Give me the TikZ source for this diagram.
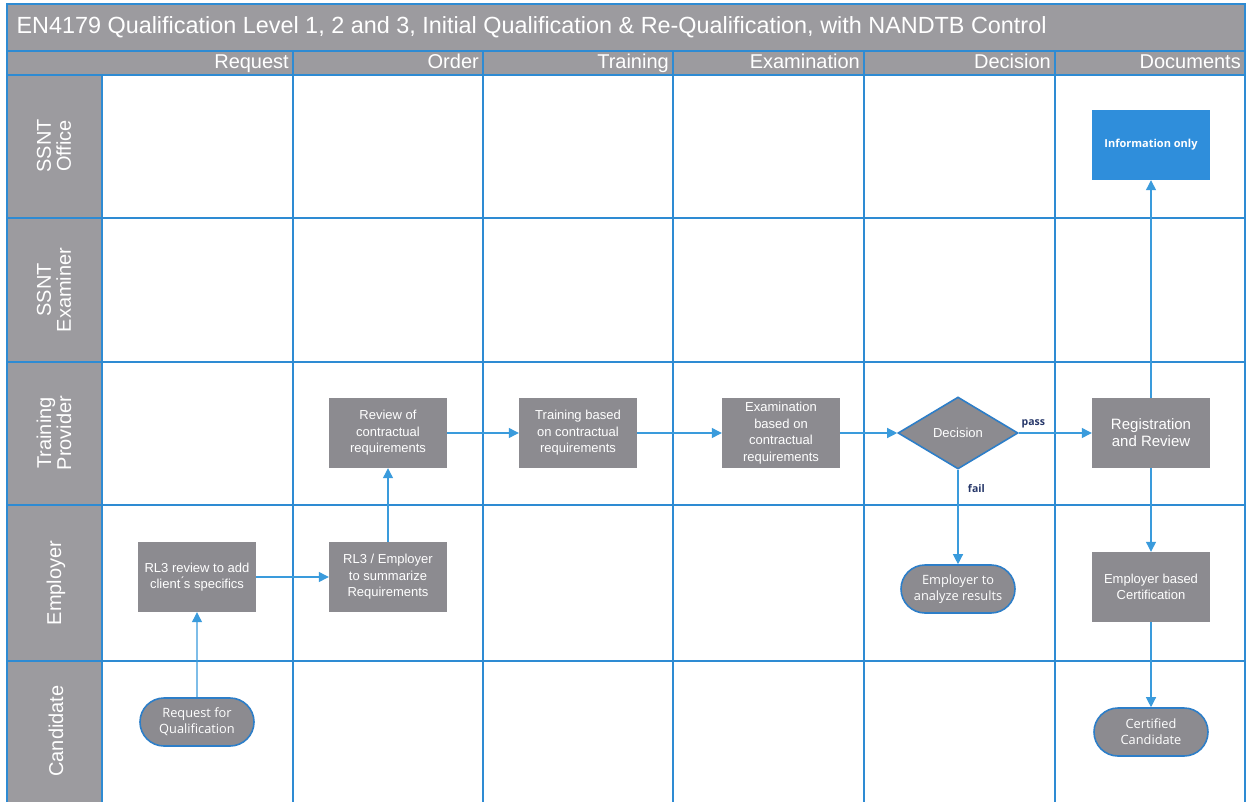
\documentclass[tikz,border=0pt]{standalone}
\usepackage{fontspec}
\setmainfont{Liberation Sans}
\newfontfamily\osans{Open Sans}
\usetikzlibrary{shapes.geometric,shapes.misc,arrows.meta}
\definecolor{gridblue}{HTML}{2E8BD3}
\definecolor{bargray}{HTML}{9C9B9F}
\definecolor{nodegray}{HTML}{8C8B90}
\definecolor{infoblue}{HTML}{2F8EDB}
\definecolor{edgeblue}{HTML}{2D7EC8}
\definecolor{arrowblue}{HTML}{3A9BDC}
\definecolor{labelnavy}{HTML}{27386A}
\begin{document}
\begin{tikzpicture}[x=1pt,y=-1pt,
  gridline/.style={draw=gridblue, line width=1.4pt},
  proc/.style={fill=nodegray, minimum width=118pt, minimum height=70pt, text=white, align=center, inner sep=2pt, font=\fontsize{13}{16.5}\selectfont},
  term/.style={rounded rectangle, fill=nodegray, draw=edgeblue, line width=1.6pt, minimum width=118pt, minimum height=48pt, text=white, align=center, inner sep=2pt, font=\osans\fontsize{12.8}{16}\selectfont},
  decide/.style={diamond, fill=nodegray, draw=edgeblue, line width=1.6pt, minimum width=120pt, minimum height=72pt, inner sep=0pt, aspect=1.67, text=white, font=\fontsize{13}{16}\selectfont},
  info/.style={fill=infoblue, minimum width=118pt, minimum height=70pt, text=white, align=center, font=\osans\bfseries\fontsize{11}{14}\selectfont},
  arr/.style={draw=arrowblue, line width=1.2pt, -{Triangle[length=10pt,width=10pt]}},
  lane/.style={rotate=90, text=white, align=center, font=\fontsize{20}{20}\selectfont},
  colhead/.style={anchor=base east, inner sep=2pt, text=white, font=\fontsize{20}{22}\selectfont},
  edgelabel/.style={text=labelnavy, font=\osans\bfseries\fontsize{10.5}{12}\selectfont}
]
\useasboundingbox (0,0) rectangle (1255,802);
\fill[white] (0,0) rectangle (1255,802);
% bars
\fill[bargray] (7,4) rectangle (1245,75);
\fill[bargray] (7,75) rectangle (102,802);
% grid
\draw[gridline] (7,802) -- (7,4) -- (1245,4) -- (1245,802);
\draw[gridline] (7,51) -- (1245,51);
\draw[gridline] (7,75) -- (1245,75);
\foreach \yy in {218,362,505,661} \draw[gridline] (7,\yy) -- (1245,\yy);
\draw[gridline] (102,75) -- (102,802);
\foreach \xx in {293,483,673,864,1055} \draw[gridline] (\xx,51) -- (\xx,802);
% title
\node[anchor=west, text=white, font=\fontsize{23.4}{26}\selectfont] (title) at (13,27) {EN4179 Qualification Level 1, 2 and 3, Initial Qualification \& Re-Qualification, with NANDTB Control};
% column headers
\node[colhead] (h1) at (291,69) {Request};
\node[colhead] (h2) at (481,69) {Order};
\node[colhead] (h3) at (671,69) {Training};
\node[colhead] (h4) at (862,69) {Examination};
\node[colhead] (h5) at (1053,69) {Decision};
\node[colhead] (h6) at (1243,69) {Documents};
% lane labels
\node[lane] (l1) at (54,146) {SSNT\\Office};
\node[lane] (l2) at (54,290) {SSNT\\Examiner};
\node[lane] (l3) at (54,433) {Training\\Provider};
\node[lane] (l4) at (56,583) {Employer};
\node[lane] (l5) at (56,731) {Candidate};
% nodes
\node[info] (infoonly) at (1151,145) {Information only};
\node[proc] (review) at (388,433) {Review of\\contractual\\requirements};
\node[proc] (training) at (578,433) {Training based\\on contractual\\requirements};
\node[proc] (exam) at (781,433) {Examination\\based on\\contractual\\requirements};
\node[decide] (decision) at (958,433) {Decision};
\node[proc, font=\fontsize{15}{17}\selectfont] (regist) at (1151,433) {Registration\\and Review};
\node[proc] (rl3) at (197,577) {RL3 review to add\\client\'{}s specifics};
\node[proc] (rl3emp) at (388,577) {RL3 / Employer\\to summarize\\Requirements};
\node[term] (analyze) at (958,589) {Employer to\\analyze results};
\node[proc] (empcert) at (1151,587) {Employer based\\Certification};
\node[term] (request) at (197,722) {Request for\\Qualification};
\node[term] (certified) at (1151,732) {Certified\\Candidate};
% connectors
\draw[arr] (request) -- (rl3);
\draw[arr] (rl3) -- (rl3emp);
\draw[arr] (rl3emp) -- (review);
\draw[arr] (review) -- (training);
\draw[arr] (training) -- (exam);
\draw[arr] (exam.east) -- (decision.west);
\draw[arr] (decision.east) -- node[edgelabel, pos=0.2, above=1pt] (passlbl) {pass} (regist.west);
\draw[arr] (decision.south) -- node[edgelabel, pos=0.2, right=6pt] (faillbl) {fail} (analyze.north);
\draw[arr] (regist) -- (infoonly);
\draw[arr] (regist) -- (empcert);
\draw[arr] (empcert) -- (certified);
\end{tikzpicture}
\end{document}
